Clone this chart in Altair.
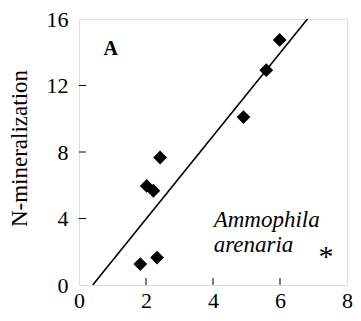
import altair as alt
import pandas as pd

# Data
x_vals = [1.83, 2.33, 2.02, 2.22, 2.42, 4.91, 5.59, 5.99]
y_vals = [1.26, 1.65, 5.96, 5.67, 7.67, 10.10, 12.92, 14.74]
fit_x = [0.41, 6.82]
fit_y = [0.0, 16.0]
x_ticks = [0, 2, 4, 6, 8]
y_ticks = [0, 4, 8, 12, 16]
x_inner_ticks = [2, 4, 6]
y_inner_ticks = [4, 8, 12]
y_title = "N-mineralization"
panel_label = "A"
species = ["Ammophila", "arenaria"]
species_x = [4.02, 4.02]
species_y = [3.5, 1.98]
star = "*"
star_x = 7.37
star_y = 1.15
panel_x = 0.95
panel_y = 13.83

W, H = 268, 266
FONT = "Liberation Serif"

pts = pd.DataFrame({"x": x_vals, "y": y_vals})
fit = pd.DataFrame({"x": fit_x, "y": fit_y})

xs = alt.Scale(domain=[0, 8], nice=False, zero=False)
ys = alt.Scale(domain=[0, 16], nice=False, zero=False)

x_axis = alt.Axis(values=x_ticks, ticks=False, tickSize=0, labelPadding=5,
                  labelFontSize=22, labelFont=FONT, labelColor="black",
                  title=None, domain=False, grid=False, labelFlush=False)
y_axis = alt.Axis(values=y_ticks, ticks=False, tickSize=0, labelPadding=11,
                  labelFontSize=22, labelFont=FONT, labelColor="black",
                  domain=False, grid=False, labelFlush=False,
                  title=y_title, titleFont=FONT, titleFontSize=23,
                  titleFontWeight="normal", titleColor="black",
                  titleAngle=-90, titleX=-53, titleY=H / 2 - 4,
                  titleBaseline="alphabetic", titleAlign="center")


def X(field):
    return alt.X(field, scale=xs, axis=x_axis)


def Y(field):
    return alt.Y(field, scale=ys, axis=y_axis)


points = alt.Chart(pts).mark_point(
    shape="diamond", filled=True, size=190, color="black", opacity=1
).encode(x=X("x:Q"), y=Y("y:Q"))

line = alt.Chart(fit).mark_line(color="black", strokeWidth=1.6, clip=True).encode(
    x=X("x:Q"), y=Y("y:Q")
)

xt = alt.Chart(pd.DataFrame({"v": x_inner_ticks})).mark_rule(color="black", strokeWidth=1).encode(
    x=X("v:Q"),
    y=alt.value(H),
    y2=alt.value(H - 7),
)
yt = alt.Chart(pd.DataFrame({"v": y_inner_ticks})).mark_rule(color="black", strokeWidth=1).encode(
    y=Y("v:Q"),
    x=alt.value(0),
    x2=alt.value(7),
)

panel = alt.Chart(pd.DataFrame({"x": [panel_x], "y": [panel_y], "t": [panel_label]})).mark_text(
    font=FONT, fontSize=20, fontWeight="bold", align="center", baseline="alphabetic", color="black"
).encode(x=X("x:Q"), y=Y("y:Q"), text="t:N")

sp = alt.Chart(pd.DataFrame({"x": species_x, "y": species_y, "t": species})).mark_text(
    font=FONT, fontSize=23, fontStyle="italic", align="left", baseline="alphabetic", color="black"
).encode(x=X("x:Q"), y=Y("y:Q"), text="t:N")

st = alt.Chart(pd.DataFrame({"x": [star_x], "y": [star_y], "t": [star]})).mark_text(
    font=FONT, fontSize=30, align="center", baseline="alphabetic", color="black"
).encode(x=X("x:Q"), y=Y("y:Q"), text="t:N")

chart = alt.layer(line, points, xt, yt, panel, sp, st).properties(
    width=W, height=H,
    autosize=alt.AutoSizeParams(type="none"),
    padding={"left": 71, "top": 11, "right": 6, "bottom": 28},
).configure_view(stroke="black", strokeWidth=1.2).configure(background="white")

chart.save("out.html", embed_options={"renderer": "svg", "actions": False})
